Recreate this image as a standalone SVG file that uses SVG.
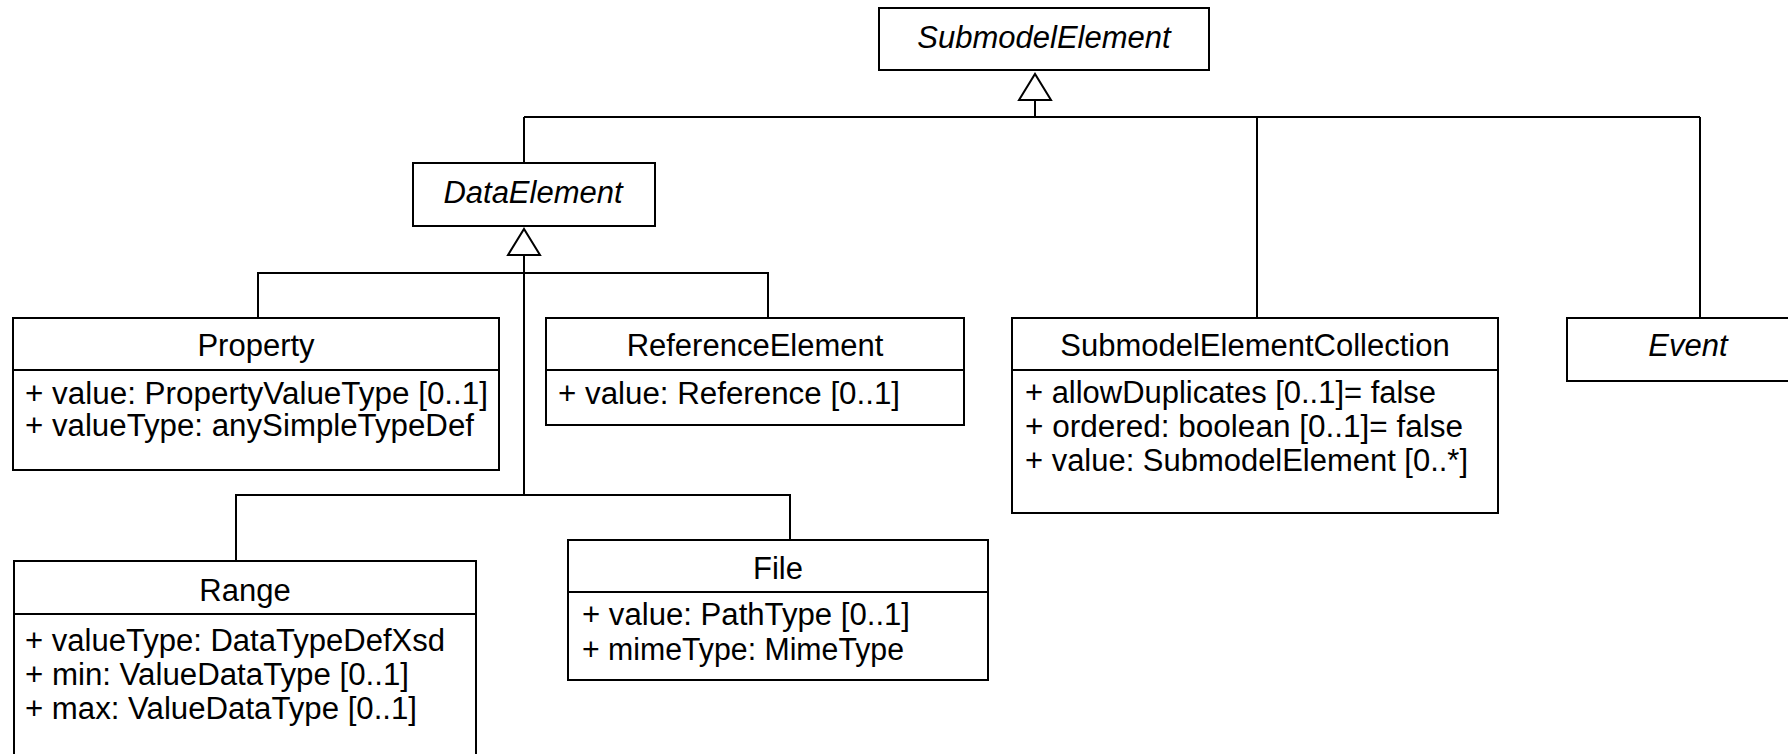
<svg xmlns="http://www.w3.org/2000/svg" width="1788" height="754" viewBox="0 0 1788 754">
<style>
.box{fill:#fff;stroke:#000;stroke-width:2}
.div{stroke:#000;stroke-width:2}
.t{font-family:"Liberation Sans",Arial,sans-serif;font-size:31px;fill:#000}
.c{text-anchor:middle}
.i{font-style:italic}
.ln{fill:none;stroke:#000;stroke-width:2}
</style>
<defs>
<marker id="gen" markerUnits="userSpaceOnUse" viewBox="-2 -2 30 36" markerWidth="30" markerHeight="36" refX="26" refY="16" orient="auto" overflow="visible">
<path d="M0,0 L26,16 L0,32 Z" fill="#fff" stroke="#000" stroke-width="2"/>
</marker>
</defs>
<rect width="1788" height="754" fill="#fff"/>
<g id="connectors">
<path class="ln" d="M524 117 H1700"/>
<path class="ln" d="M524 117 V163"/>
<path class="ln" d="M1257 117 V318"/>
<path class="ln" d="M1700 117 V318"/>
<path class="ln" d="M1035 117 V74" marker-end="url(#gen)"/>
<path class="ln" d="M524 495 V229" marker-end="url(#gen)"/>
<path class="ln" d="M258 318 V273 H768 V318"/>
<path class="ln" d="M236 561 V495 H790 V540"/>
</g>
<g id="SubmodelElement">
<rect class="box" x="879" y="8" width="330" height="62"/>
<text class="t c i" x="1044" y="48">SubmodelElement</text>
</g>
<g id="DataElement">
<rect class="box" x="413" y="163" width="242" height="63"/>
<text class="t c i" x="533" y="203">DataElement</text>
</g>
<g id="Property">
<rect class="box" x="13" y="318" width="486" height="152"/>
<line class="div" x1="13" y1="370" x2="499" y2="370"/>
<text class="t c" x="256" y="356">Property</text>
<text class="t" x="25" y="404" textLength="463" lengthAdjust="spacingAndGlyphs">+ value: PropertyValueType [0..1]</text>
<text class="t" x="25" y="436" textLength="449" lengthAdjust="spacingAndGlyphs">+ valueType: anySimpleTypeDef</text>
</g>
<g id="ReferenceElement">
<rect class="box" x="546" y="318" width="418" height="107"/>
<line class="div" x1="546" y1="370" x2="964" y2="370"/>
<text class="t c" x="755" y="356">ReferenceElement</text>
<text class="t" x="558" y="404" textLength="342" lengthAdjust="spacingAndGlyphs">+ value: Reference [0..1]</text>
</g>
<g id="SubmodelElementCollection">
<rect class="box" x="1012" y="318" width="486" height="195"/>
<line class="div" x1="1012" y1="370" x2="1498" y2="370"/>
<text class="t c" x="1255" y="356">SubmodelElementCollection</text>
<text class="t" x="1025" y="403" textLength="411" lengthAdjust="spacingAndGlyphs">+ allowDuplicates [0..1]= false</text>
<text class="t" x="1025" y="437" textLength="438" lengthAdjust="spacingAndGlyphs">+ ordered: boolean [0..1]= false</text>
<text class="t" x="1025" y="471" textLength="443" lengthAdjust="spacingAndGlyphs">+ value: SubmodelElement [0..*]</text>
</g>
<g id="Event">
<rect class="box" x="1567" y="318" width="242" height="63"/>
<text class="t c i" x="1688" y="356">Event</text>
</g>
<g id="Range">
<rect class="box" x="14" y="561" width="462" height="210"/>
<line class="div" x1="14" y1="614" x2="476" y2="614"/>
<text class="t c" x="245" y="601">Range</text>
<text class="t" x="25" y="651" textLength="420" lengthAdjust="spacingAndGlyphs">+ valueType: DataTypeDefXsd</text>
<text class="t" x="25" y="685" textLength="384" lengthAdjust="spacingAndGlyphs">+ min: ValueDataType [0..1]</text>
<text class="t" x="25" y="719" textLength="392" lengthAdjust="spacingAndGlyphs">+ max: ValueDataType [0..1]</text>
</g>
<g id="File">
<rect class="box" x="568" y="540" width="420" height="140"/>
<line class="div" x1="568" y1="592" x2="988" y2="592"/>
<text class="t c" x="778" y="579">File</text>
<text class="t" x="582" y="625" textLength="328" lengthAdjust="spacingAndGlyphs">+ value: PathType [0..1]</text>
<text class="t" x="582" y="660" textLength="322" lengthAdjust="spacingAndGlyphs">+ mimeType: MimeType</text>
</g>
</svg>
